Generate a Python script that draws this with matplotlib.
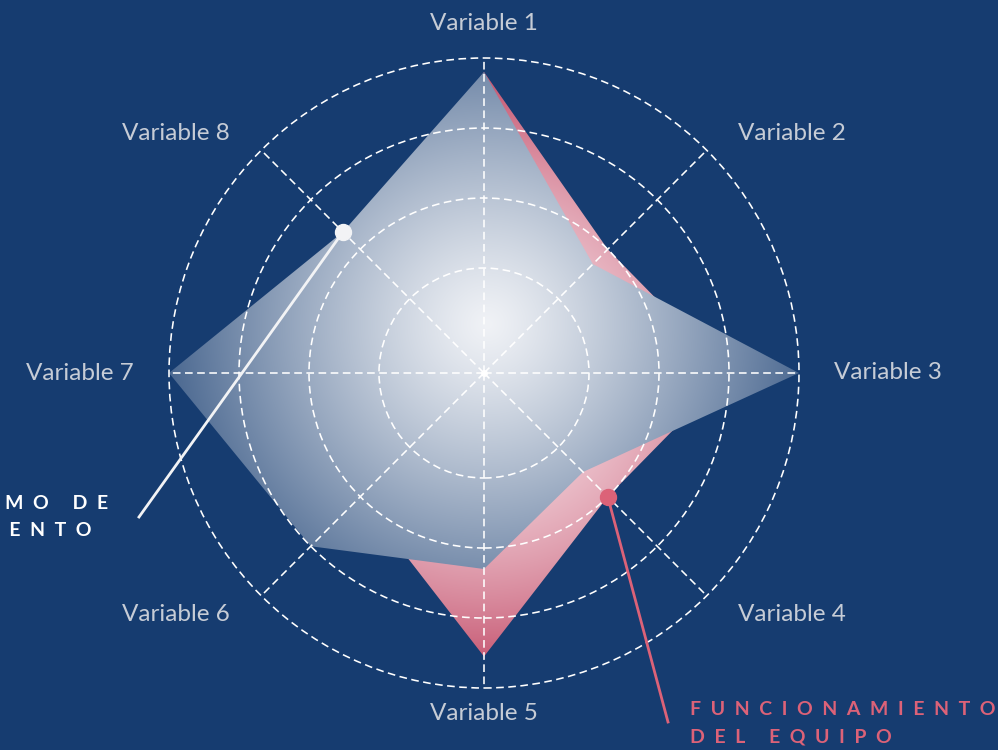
import numpy as np
import matplotlib.pyplot as plt
from matplotlib.patches import Polygon, Circle

# data
variables = ['Variable 1', 'Variable 2', 'Variable 3', 'Variable 4',
             'Variable 5', 'Variable 6', 'Variable 7', 'Variable 8']
optimo = [4.8, 2.7, 5.0, 2.5, 3.3, 4.0, 5.0, 3.35]
equipo = [4.8, 3.0, 4.0, 3.0, 4.55, 3.0, 4.0, 3.0]
niveles = [2, 3, 4, 5]
r_origen = 0.5

titulo_optimo = ['NIVEL ÓPTIMO DE', 'FUNCIONAMIENTO']
titulo_equipo = ['FUNCIONAMIENTO', 'DEL EQUIPO']

BG = '#163c70'
ROSA = '#dc6278'
GRIS = '#c6ccd6'


def spaced(s):
    return '  '.join(s)


def polar_xy(vals, theta):
    r = np.asarray(vals, dtype=float) - r_origen
    return r * np.cos(theta), r * np.sin(theta)


def px(x, y):
    # pixel position (from top-left) -> data units
    return (x - 484) / 70, (373 - y) / 70


def main():
    n = len(variables)
    theta = np.deg2rad(90 - 360 / n * np.arange(n))

    fig = plt.figure(figsize=(9.98, 7.5), dpi=100, facecolor=BG)
    ax = fig.add_axes([0, 0, 1, 1])
    ax.set_facecolor(BG)
    xlim = (-484 / 70, 514 / 70)
    ylim = (-377 / 70, 373 / 70)

    gx, gy = np.meshgrid(np.linspace(*xlim, 998), np.linspace(*ylim, 750))
    bg = np.array([22, 60, 112]) / 255

    # pink polygon (team) with radial gradient
    xe, ye = polar_xy(equipo, theta)
    poly_e = Polygon(np.column_stack([xe, ye]), closed=True,
                     transform=ax.transData, facecolor='none', edgecolor='none')
    d = np.hypot(gx, gy)
    t = np.clip((d / 4.1) ** 1.8, 0, 1)[..., None]
    light = np.array([246, 222, 228]) / 255
    dark = np.array([200, 92, 118]) / 255
    img = light * (1 - t) + dark * t
    im = ax.imshow(img, extent=[*xlim, *ylim], origin='lower',
                   interpolation='bilinear', aspect='auto', zorder=1)
    im.set_clip_path(poly_e)

    # white polygon (optimal) with radial gradient
    xo, yo = polar_xy(optimo, theta)
    poly_o = Polygon(np.column_stack([xo, yo]), closed=True,
                     transform=ax.transData, facecolor='none', edgecolor='none')
    d = np.hypot(gx - 0.05, gy - 0.7)
    t = np.clip((d / 5.8) ** 1.2, 0, 1)[..., None]
    white = np.array([240, 242, 246]) / 255
    img = white * (1 - t) + bg * t
    im = ax.imshow(img, extent=[*xlim, *ylim], origin='lower',
                   interpolation='bilinear', aspect='auto', zorder=2)
    im.set_clip_path(poly_o)

    # grid: rings and spokes
    dash = (0, (4.8, 2.8))
    for lvl in niveles:
        ax.add_patch(Circle((0, 0), lvl - r_origen, fill=False,
                            edgecolor='white', lw=1.15, ls=dash, zorder=3))
    r_max = max(niveles) - r_origen
    for th in theta:
        ax.plot([0, r_max * np.cos(th)], [0, r_max * np.sin(th)],
                color='white', lw=1.15, ls=dash, zorder=3)
    ax.plot(0, 0, 'o', color='white', ms=4, zorder=3)

    # variable labels
    for lab, th in zip(variables, theta):
        c, s = np.cos(th), np.sin(th)
        ha = 'center' if abs(c) < 0.1 else ('left' if c > 0 else 'right')
        lx = (5.0 + 0.2 * abs(s)) * c
        ly = 5.0 if s > 0.9 else (4.83 if s > 0 else 4.87) * s
        ax.text(lx, ly, lab, ha=ha, va='center', color=GRIS,
                fontsize=17.5, family='Lato')

    # callouts
    i_e, i_o = 3, 7
    ex, ey = px(668, 722)
    ax.plot([xe[i_e], ex], [ye[i_e], ey], color=ROSA, lw=2, zorder=4)
    ax.plot(xe[i_e], ye[i_e], 'o', color=ROSA, ms=11.5, zorder=5)
    wx, wy = px(139, 517)
    ax.plot([xo[i_o], wx], [yo[i_o], wy], color='#f2f3f5', lw=2, zorder=4)
    ax.plot(xo[i_o], yo[i_o], 'o', color='#f2f3f5', ms=11.5, zorder=5)

    tkw = dict(va='center', fontsize=14, weight='bold', family='Lato',
               zorder=6)
    ax.text(*px(690, 710), spaced(titulo_equipo[0]), ha='left', color=ROSA,
            **tkw)
    ax.text(*px(690, 737), spaced(titulo_equipo[1]), ha='left', color=ROSA,
            **tkw)
    ax.text(*px(108, 503), spaced(titulo_optimo[0]), ha='right',
            color='white', **tkw)
    ax.text(*px(91, 531), spaced(titulo_optimo[1]), ha='right',
            color='white', **tkw)

    ax.set_xlim(*xlim)
    ax.set_ylim(*ylim)
    ax.axis('off')
    fig.savefig('out.png', dpi=100, facecolor=BG)


if __name__ == '__main__':
    main()
